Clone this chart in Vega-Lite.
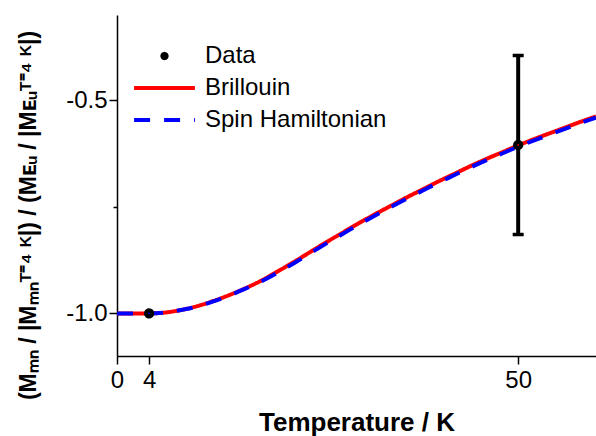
{
  "$schema": "https://vega.github.io/schema/vega-lite/v6.json",
  "width": 479,
  "height": 341,
  "autosize": {"type": "none"},
  "padding": {"left": 117, "top": 15, "right": 0, "bottom": 80},
  "background": "white",
  "config": {
    "view": {"stroke": null},
    "font": "Liberation Sans",
    "axis": {"grid": false, "domainColor": "black", "domainWidth": 1.5, "tickColor": "black", "tickWidth": 1.5, "tickSize": 8, "labelColor": "black", "labelFont": "Liberation Sans", "labelFontSize": 24, "titleColor": "black", "titleFont": "Liberation Sans", "titleFontWeight": "bold"},
    "legend": {"labelFont": "Liberation Sans", "labelFontSize": 24, "labelColor": "black", "labelLimit": 400, "symbolStrokeWidth": 4, "symbolSize": 3700, "clipHeight": 32, "rowPadding": 0, "labelOffset": 8}
  },
  "datasets": {
    "curves": [
      {"T": 0, "y": -1.0, "series": "Brillouin"},
      {"T": 2, "y": -1.0, "series": "Brillouin"},
      {"T": 4, "y": -1.0, "series": "Brillouin"},
      {"T": 6, "y": -0.998, "series": "Brillouin"},
      {"T": 8, "y": -0.992, "series": "Brillouin"},
      {"T": 10, "y": -0.983, "series": "Brillouin"},
      {"T": 12, "y": -0.971, "series": "Brillouin"},
      {"T": 14, "y": -0.957, "series": "Brillouin"},
      {"T": 16, "y": -0.941, "series": "Brillouin"},
      {"T": 18, "y": -0.923, "series": "Brillouin"},
      {"T": 20, "y": -0.902, "series": "Brillouin"},
      {"T": 22, "y": -0.88, "series": "Brillouin"},
      {"T": 24, "y": -0.857, "series": "Brillouin"},
      {"T": 26, "y": -0.834, "series": "Brillouin"},
      {"T": 28, "y": -0.812, "series": "Brillouin"},
      {"T": 30, "y": -0.79, "series": "Brillouin"},
      {"T": 32, "y": -0.769, "series": "Brillouin"},
      {"T": 34, "y": -0.749, "series": "Brillouin"},
      {"T": 36, "y": -0.729, "series": "Brillouin"},
      {"T": 38, "y": -0.71, "series": "Brillouin"},
      {"T": 40, "y": -0.691, "series": "Brillouin"},
      {"T": 42, "y": -0.673, "series": "Brillouin"},
      {"T": 44, "y": -0.655, "series": "Brillouin"},
      {"T": 46, "y": -0.638, "series": "Brillouin"},
      {"T": 48, "y": -0.622, "series": "Brillouin"},
      {"T": 50, "y": -0.606, "series": "Brillouin"},
      {"T": 52, "y": -0.591, "series": "Brillouin"},
      {"T": 54, "y": -0.577, "series": "Brillouin"},
      {"T": 56, "y": -0.563, "series": "Brillouin"},
      {"T": 58, "y": -0.549, "series": "Brillouin"},
      {"T": 59.7, "y": -0.538, "series": "Brillouin"},
      {"T": 0, "y": -1.0, "series": "Spin Hamiltonian"},
      {"T": 2, "y": -1.0, "series": "Spin Hamiltonian"},
      {"T": 4, "y": -1.0, "series": "Spin Hamiltonian"},
      {"T": 6, "y": -0.998, "series": "Spin Hamiltonian"},
      {"T": 8, "y": -0.992, "series": "Spin Hamiltonian"},
      {"T": 10, "y": -0.984, "series": "Spin Hamiltonian"},
      {"T": 12, "y": -0.972, "series": "Spin Hamiltonian"},
      {"T": 14, "y": -0.958, "series": "Spin Hamiltonian"},
      {"T": 16, "y": -0.942, "series": "Spin Hamiltonian"},
      {"T": 18, "y": -0.925, "series": "Spin Hamiltonian"},
      {"T": 20, "y": -0.905, "series": "Spin Hamiltonian"},
      {"T": 22, "y": -0.883, "series": "Spin Hamiltonian"},
      {"T": 24, "y": -0.86, "series": "Spin Hamiltonian"},
      {"T": 26, "y": -0.837, "series": "Spin Hamiltonian"},
      {"T": 28, "y": -0.815, "series": "Spin Hamiltonian"},
      {"T": 30, "y": -0.793, "series": "Spin Hamiltonian"},
      {"T": 32, "y": -0.772, "series": "Spin Hamiltonian"},
      {"T": 34, "y": -0.752, "series": "Spin Hamiltonian"},
      {"T": 36, "y": -0.732, "series": "Spin Hamiltonian"},
      {"T": 38, "y": -0.713, "series": "Spin Hamiltonian"},
      {"T": 40, "y": -0.694, "series": "Spin Hamiltonian"},
      {"T": 42, "y": -0.676, "series": "Spin Hamiltonian"},
      {"T": 44, "y": -0.658, "series": "Spin Hamiltonian"},
      {"T": 46, "y": -0.641, "series": "Spin Hamiltonian"},
      {"T": 48, "y": -0.625, "series": "Spin Hamiltonian"},
      {"T": 50, "y": -0.609, "series": "Spin Hamiltonian"},
      {"T": 52, "y": -0.594, "series": "Spin Hamiltonian"},
      {"T": 54, "y": -0.58, "series": "Spin Hamiltonian"},
      {"T": 56, "y": -0.566, "series": "Spin Hamiltonian"},
      {"T": 58, "y": -0.552, "series": "Spin Hamiltonian"},
      {"T": 59.7, "y": -0.541, "series": "Spin Hamiltonian"}
    ],
    "points": [
      {"T": 4, "y": -1.0, "lo": -1.0, "hi": -1.0, "series": "Data"},
      {"T": 50, "y": -0.605, "lo": -0.815, "hi": -0.395, "series": "Data"}
    ]
  },
  "layer": [
    {
      "data": {"name": "points"},
      "transform": [{"filter": "datum.hi > datum.lo"}],
      "mark": {"type": "rule", "color": "black", "strokeWidth": 4},
      "encoding": {
        "x": {"field": "T", "type": "quantitative"},
        "y": {"field": "lo", "type": "quantitative"},
        "y2": {"field": "hi"}
      }
    },
    {
      "data": {"name": "points"},
      "transform": [{"filter": "datum.hi > datum.lo"}],
      "mark": {"type": "tick", "color": "black", "opacity": 1, "orient": "horizontal", "size": 11, "thickness": 3.5},
      "encoding": {
        "x": {"field": "T", "type": "quantitative"},
        "y": {"field": "lo", "type": "quantitative"}
      }
    },
    {
      "data": {"name": "points"},
      "transform": [{"filter": "datum.hi > datum.lo"}],
      "mark": {"type": "tick", "color": "black", "opacity": 1, "orient": "horizontal", "size": 11, "thickness": 3.5},
      "encoding": {
        "x": {"field": "T", "type": "quantitative"},
        "y": {"field": "hi", "type": "quantitative"}
      }
    },
    {
      "data": {"name": "curves"},
      "mark": {"type": "line", "strokeWidth": 4, "interpolate": "monotone", "clip": true},
      "encoding": {
        "x": {"field": "T", "type": "quantitative", "scale": {"domain": [0, 59.7], "nice": false, "zero": false},
          "axis": {"values": [0, 4, 50], "title": "Temperature / K", "titleFontSize": 26, "titlePadding": 17, "labelPadding": 4, "labelFlush": false}},
        "y": {"field": "y", "type": "quantitative", "scale": {"domain": [-1.1, -0.3], "nice": false, "zero": false},
          "axis": {"values": [-1.0, -0.75, -0.5], "labelExpr": "datum.value == -1 ? '-1.0' : (datum.value == -0.5 ? '-0.5' : '')", "tickSize": {"condition": {"test": "datum.value == -0.75", "value": 4}, "value": 8}, "labelPadding": 2,
            "title": "(Mₘₙ / |Mₘₙᵀ⁼⁴ ᴷ|) / (Mᴇᵤ / |Mᴇᵤᵀ⁼⁴ ᴷ|)", "titleFontSize": 23, "titleX": -77, "titleY": 200}},
        "color": {"field": "series", "type": "nominal", "scale": {"domain": ["Data", "Brillouin", "Spin Hamiltonian"], "range": ["black", "#ff0000", "#0000ff"]},
          "legend": {"title": null, "orient": "none", "legendX": 15, "legendY": 25}},
        "strokeDash": {"field": "series", "type": "nominal", "scale": {"domain": ["Data", "Brillouin", "Spin Hamiltonian"], "range": [[1, 0], [1, 0], [16, 14]]},
          "legend": {"title": null, "orient": "none", "legendX": 15, "legendY": 25}},
        "order": {"field": "series", "sort": "ascending"}
      }
    },
    {
      "data": {"name": "points"},
      "mark": {"type": "point", "filled": false, "strokeWidth": 6, "size": 3600, "opacity": 1},
      "encoding": {
        "x": {"field": "T", "type": "quantitative"},
        "y": {"field": "y", "type": "quantitative"},
        "color": {"field": "series", "type": "nominal"},
        "strokeDash": {"field": "series", "type": "nominal"},
        "shape": {"field": "series", "type": "nominal", "scale": {"domain": ["Data", "Brillouin", "Spin Hamiltonian"], "range": ["M-0.07,0A0.07,0.07 0 1,1 0.07,0A0.07,0.07 0 1,1 -0.07,0Z", "stroke", "stroke"]},
          "legend": {"title": null, "orient": "none", "legendX": 15, "legendY": 25}}
      }
    }
  ]
}
